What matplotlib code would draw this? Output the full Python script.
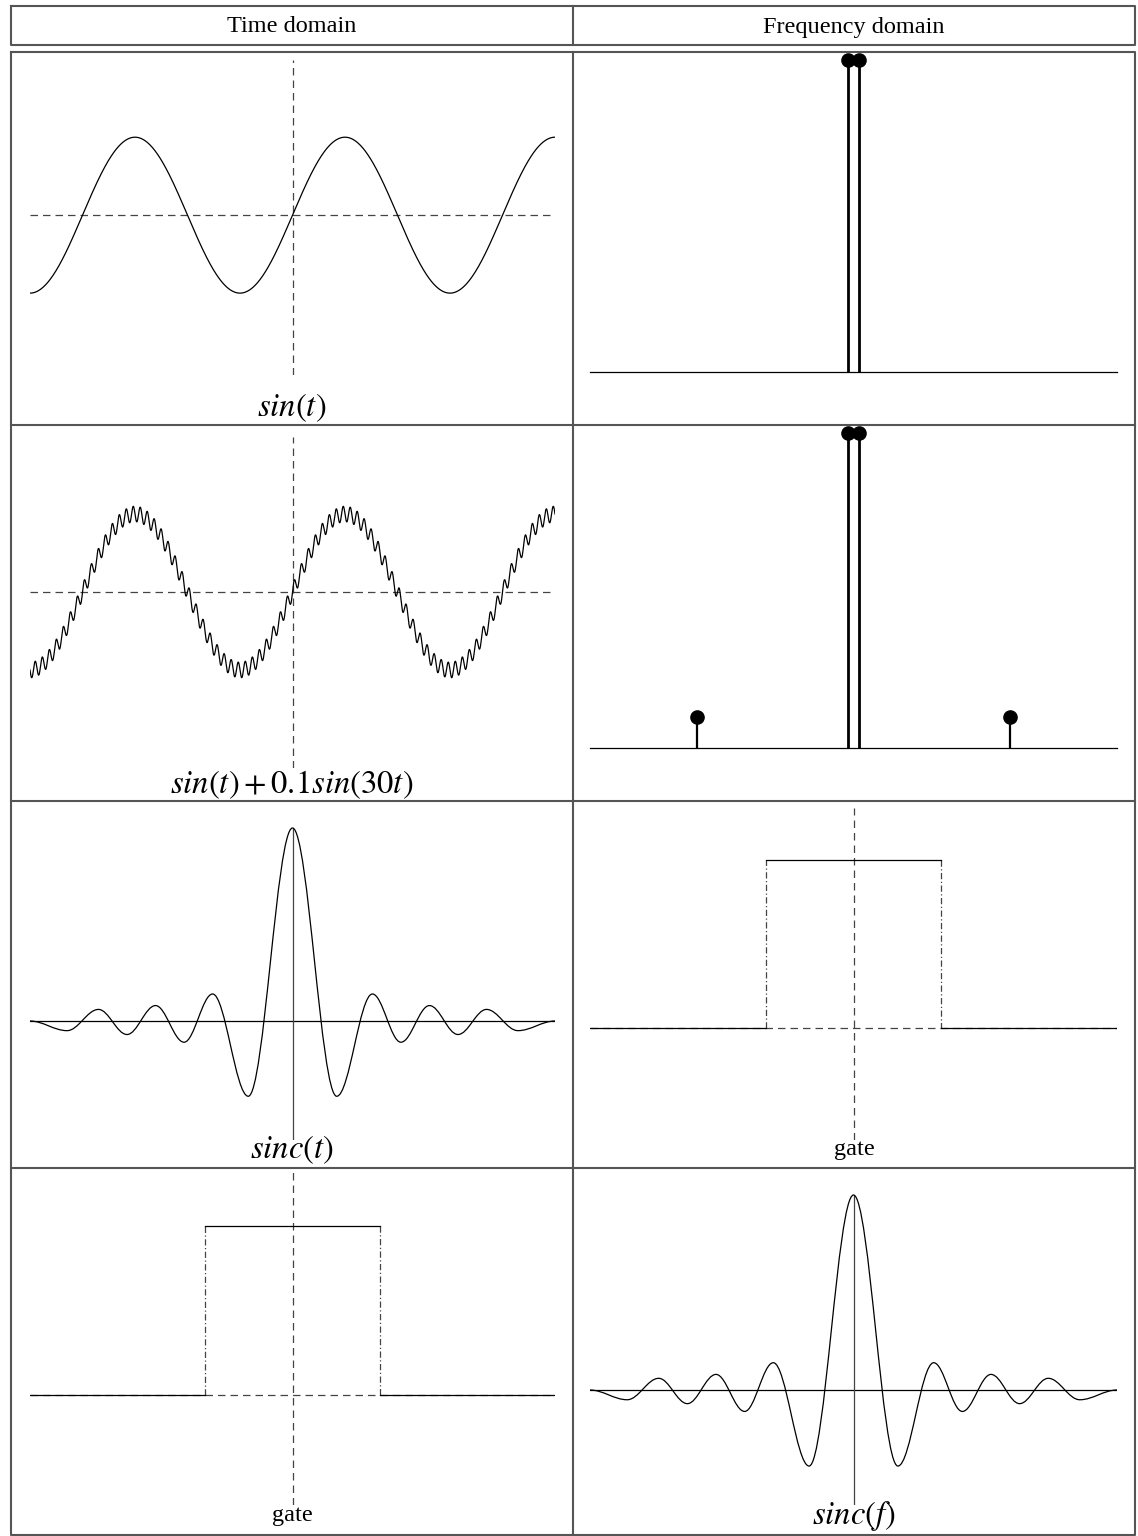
import numpy as np
import matplotlib
matplotlib.use("Agg")
import matplotlib.pyplot as plt
from matplotlib.path import Path
from matplotlib.patches import PathPatch

plt.rcParams["font.family"] = ["Liberation Serif", "DejaVu Serif"]
plt.rcParams["mathtext.fontset"] = "stix"

# ---- data ----
headers = ["Time domain", "Frequency domain"]
labels = [
    [r"$sin(t)$", None],
    [r"$sin(t)+0.1sin(30t)$", None],
    [r"$sinc(t)$", "gate"],
    ["gate", r"$sinc(f)$"],
]

# sine components: (frequency, amplitude)
sine_freqs = [1, 30]
sine_amps = [1.0, 0.1]
t_span = 2.5 * np.pi

# spectral lines of the two signals
spec1_f = [-1, 1]
spec1_a = [1.0, 1.0]
spec2_f = [-30, -1, 1, 30]
spec2_a = [0.1, 1.0, 1.0, 0.1]

# gate outline (time or frequency units)
gate_x = [-3, -1, -1, 1, 1, 3]
gate_y = [0, 0, 1, 1, 0, 0]

# sinc lobe extrema (right half, mirrored for the left)
sinc_x = [0.0, 1.55, 2.8, 3.8, 4.8, 5.8, 6.8, 7.9, 9.2]
sinc_y = [1.0, -0.39, 0.14, -0.11, 0.08, -0.07, 0.06, -0.05, 0.0]

# ---- layout (pixels) ----
W, H = 1138, 1536
fig = plt.figure(figsize=(W / 100, H / 100), dpi=100)

GRID = "#555555"
AXC = "#444444"
LW = 0.9
TXT = 17.5
MATH = 23.5


def px_axes(x0, y0, x1, y1):
    ax = fig.add_axes([x0 / W, 1 - y1 / H, (x1 - x0) / W, (y1 - y0) / H])
    ax.axis("off")
    return ax


def fig_line(xs, ys, lw=1.5, color=GRID):
    fig.add_artist(plt.Line2D([x / W for x in xs], [1 - y / H for y in ys],
                              lw=lw, color=color, transform=fig.transFigure))


def dashed_axes(ax, vertical=True, horizontal=True):
    kw = dict(color=AXC, lw=LW, ls=(0, (6, 4)), zorder=1)
    if horizontal:
        ax.axhline(0, **kw)
    if vertical:
        ax.axvline(0, **kw)


def sinc_patch(xs, ys):
    xs = list(-np.array(xs[::-1])) + list(xs[1:])
    ys = list(ys[::-1]) + list(ys[1:])
    verts = [(xs[0], ys[0])]
    codes = [Path.MOVETO]
    for i in range(len(xs) - 1):
        dx = xs[i + 1] - xs[i]
        verts += [(xs[i] + 0.36 * dx, ys[i]), (xs[i + 1] - 0.36 * dx, ys[i + 1]),
                  (xs[i + 1], ys[i + 1])]
        codes += [Path.CURVE4] * 3
    return PathPatch(Path(verts, codes), fill=False, lw=LW, color="black",
                     zorder=3, clip_on=False)


def draw_gate(ax):
    dashed_axes(ax)
    solid = dict(color="black", lw=LW, zorder=3)
    ax.plot(gate_x[0:2], gate_y[0:2], **solid)
    ax.plot(gate_x[2:4], gate_y[2:4], **solid)
    ax.plot(gate_x[4:6], gate_y[4:6], **solid)
    ax.plot(gate_x[1:3], gate_y[1:3], color=AXC, lw=LW, ls=(0, (5, 2, 1, 2)))
    ax.plot(gate_x[3:5], gate_y[3:5], color=AXC, lw=LW, ls=(0, (5, 2, 1, 2)))
    ax.set_xlim(-3, 3)


def draw_sinc(ax):
    ax.add_patch(sinc_patch(sinc_x, sinc_y))
    ax.axhline(0, color="black", lw=LW, zorder=2)
    ax.axvline(0, color=AXC, lw=LW, zorder=2)
    ax.set_xlim(-sinc_x[-1], sinc_x[-1])


def draw_stems(ax, fs, amps):
    ax.axhline(0, color="black", lw=LW, clip_on=False)
    for f, a in zip(fs, amps):
        lw = 2.0 if abs(f) == 1 else 1.6
        ax.plot([f, f], [0, a], color="black", lw=lw, solid_capstyle="butt",
                clip_on=False)
        ax.plot([f], [a], "o", color="black", ms=9.5, clip_on=False)
    ax.set_xlim(-50.5, 50.5)


# ---- table frame ----
L, R, MID = 11, 1135, 573
fig_line([L, R, R, L, L], [6, 6, 45, 45, 6])
fig_line([MID, MID], [6, 45])
fig_line([L, R, R, L, L], [52, 52, 1535, 1535, 52])
fig_line([MID, MID], [52, 1535])
for yy in [425, 801, 1168]:
    fig_line([L, R], [yy, yy])

fig.text(292 / W, 1 - 27 / H, headers[0], ha="center", va="center", fontsize=TXT)
fig.text(854 / W, 1 - 27 / H, headers[1], ha="center", va="center", fontsize=TXT)

label_y = [408, 785, 1150, 1516]
for row, y in zip(labels, label_y):
    for col, text in enumerate(row):
        if text:
            size = MATH if text.startswith("$") else TXT
            fig.text((292 if col == 0 else 854) / W, 1 - y / H, text,
                     ha="center", va="center", fontsize=size)

t = np.linspace(-t_span, t_span, 4000)

# row 1: sin(t) and its spectrum
ax = px_axes(30, 60, 555, 375)
dashed_axes(ax)
ax.plot(t, sine_amps[0] * np.sin(sine_freqs[0] * t), color="black", lw=LW)
ax.set_xlim(-t_span, t_span)
ax.set_ylim(-2.05, 1.99)

ax = px_axes(590, 60, 1117, 372)
draw_stems(ax, spec1_f, spec1_a)
ax.set_ylim(0, 1)

# row 2: sin(t) + 0.1 sin(30t) and its spectrum
ax = px_axes(30, 437, 555, 768)
dashed_axes(ax)
sig = sum(a * np.sin(f * t) for f, a in zip(sine_freqs, sine_amps))
ax.plot(t, sig, color="black", lw=LW)
ax.set_xlim(-t_span, t_span)
ax.set_ylim(-(768 - 592) / 78, (592 - 437) / 78)

ax = px_axes(590, 433, 1117, 748)
draw_stems(ax, spec2_f, spec2_a)
ax.set_ylim(0, 1)

# row 3: sinc(t) <-> gate
ax = px_axes(30, 828, 555, 1140)
draw_sinc(ax)
ax.set_ylim(-(1140 - 1021) / 193, 1.0)

ax = px_axes(590, 808, 1117, 1140)
draw_gate(ax)
ax.set_ylim(-(1140 - 1028) / 168, (1028 - 808) / 168)

# row 4: gate <-> sinc(f)
ax = px_axes(30, 1170, 555, 1505)
draw_gate(ax)
ax.set_ylim(-(1505 - 1395) / 169, (1395 - 1170) / 169)

ax = px_axes(590, 1195, 1117, 1505)
draw_sinc(ax)
ax.set_ylim(-(1505 - 1390) / 195, 1.0)

fig.savefig("out.png", dpi=100)
